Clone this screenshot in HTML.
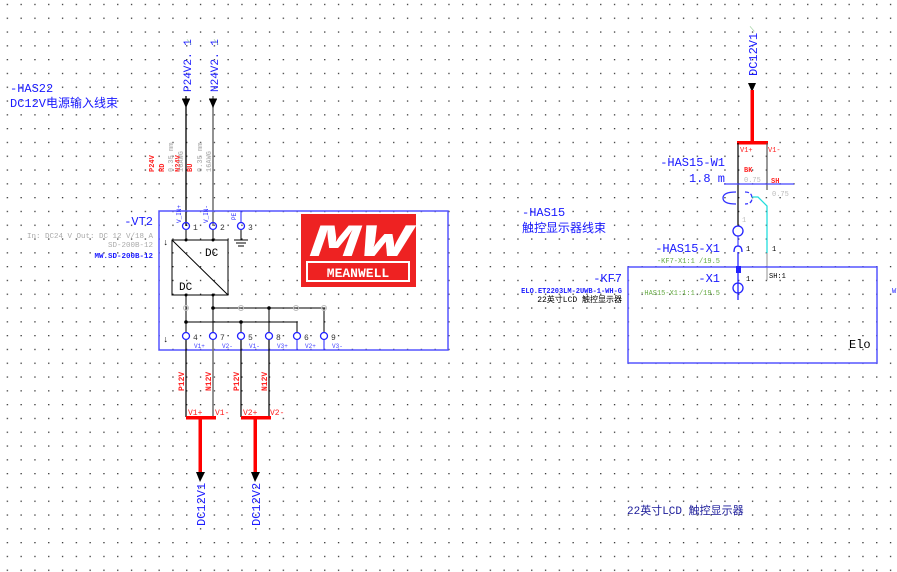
<!DOCTYPE html>
<html><head><meta charset="utf-8"><style>
html,body{margin:0;padding:0;background:#fff;}
svg{display:block;}
text{font-family:"Liberation Mono","Noto Sans CJK SC",monospace;}
.cj{font-family:"Liberation Mono","Noto Sans CJK SC",sans-serif;}
</style></head><body>
<svg width="897" height="572" viewBox="0 0 897 572" xmlns="http://www.w3.org/2000/svg">
<defs>
<pattern id="g" x="6.7" y="3.8" width="13.8" height="13.8" patternUnits="userSpaceOnUse">
<rect x="0" y="0" width="1.3" height="1.3" fill="#333"/>
</pattern>
</defs>
<rect width="897" height="572" fill="url(#g)"/>

<!-- left texts -->
<text x="10" y="92" font-size="12" fill="#1a1aff" class="cj">-HAS22</text>
<text x="10" y="107" font-size="12" fill="#1a1aff" class="cj">DC12V电源输入线束</text>

<!-- input labels -->
<text transform="translate(191,92) rotate(-90)" font-size="11" fill="#1a1aff">P24V2. 1</text>
<text transform="translate(218,92) rotate(-90)" font-size="11" fill="#1a1aff">N24V2. 1</text>
<text transform="translate(191,45) rotate(-70)" font-size="8" fill="#9c9">/</text>
<text transform="translate(218,45) rotate(-70)" font-size="8" fill="#9c9">/</text>
<!-- input wires -->
<line x1="186" y1="96" x2="186" y2="226" stroke="#000" stroke-width="1.3"/>
<line x1="213" y1="96" x2="213" y2="226" stroke="#777" stroke-width="1.6"/>
<polygon points="182,99 190,99 186,108" fill="#000"/>
<polygon points="209,99 217,99 213,108" fill="#000"/>
<line x1="182" y1="99" x2="190" y2="99" stroke="#000"/>
<line x1="209" y1="99" x2="217" y2="99" stroke="#000"/>
<!-- small wire labels -->
<g font-size="7" font-weight="bold">
<text transform="translate(154,172) rotate(-90)" fill="#f22">P24V</text>
<text transform="translate(164,172) rotate(-90)" fill="#f22">RD</text>
<text transform="translate(173,172) rotate(-90)" fill="#bbb">0.35 mm</text>
<text transform="translate(180,172) rotate(-90)" fill="#f22">N24V</text>
<text transform="translate(183,172) rotate(-90)" fill="#bbb">16AWG</text>
<text transform="translate(192,172) rotate(-90)" fill="#f22">BU</text>
<text transform="translate(202,172) rotate(-90)" fill="#bbb">0.35 mm</text>
<text transform="translate(211,172) rotate(-90)" fill="#bbb">16AWG</text>
</g>

<!-- VT2 box -->
<rect x="159" y="211" width="289" height="139" fill="none" stroke="#55f" stroke-width="1.5"/>
<text x="153" y="225" font-size="12" fill="#1a1aff" text-anchor="end">-VT2</text>
<text x="153" y="238" font-size="7.5" fill="#aaa" text-anchor="end">In: DC24 V Out: DC 12 V/18 A</text>
<text x="153" y="247" font-size="7.5" fill="#aaa" text-anchor="end">SD-200B-12</text>
<text x="153" y="258" font-size="7.5" fill="#1a1aff" text-anchor="end" font-weight="bold">MW.SD-200B-12</text>

<!-- top terminals -->
<g fill="none" stroke="#22f" stroke-width="1.3">
<circle cx="186" cy="226" r="3.5"/><circle cx="213" cy="226" r="3.5"/><circle cx="241" cy="226" r="3.5"/>
</g>
<line x1="241" y1="211" x2="241" y2="222" stroke="#22f"/>
<g font-size="6" fill="#22f">
<text transform="translate(181,223) rotate(-90)">V_IN+</text>
<text transform="translate(208,223) rotate(-90)">V_IN-</text>
<text transform="translate(236,220) rotate(-90)">PE</text>
</g>
<g font-size="8" fill="#333"><text x="193" y="230">1</text><text x="220" y="230">2</text><text x="248" y="230">3</text></g>
<line x1="186" y1="230" x2="186" y2="240" stroke="#000"/>
<line x1="213" y1="230" x2="213" y2="240" stroke="#000"/>
<circle cx="186" cy="240" r="1.5"/><circle cx="213" cy="240" r="1.5"/>
<!-- ground -->
<g stroke="#000"><line x1="241" y1="230" x2="241" y2="240"/><line x1="234" y1="240" x2="248" y2="240"/><line x1="236" y1="243" x2="246" y2="243"/><line x1="238" y1="246" x2="244" y2="246"/></g>
<text x="163" y="245" font-size="9" fill="#000">↓</text>
<text x="163" y="342" font-size="9" fill="#000">↓</text>

<!-- DC/DC -->
<rect x="172" y="240" width="56" height="55" fill="none" stroke="#000" stroke-width="1"/>
<line x1="172" y1="240" x2="228" y2="295" stroke="#000"/>
<text x="205" y="256" font-size="11" font-family="Liberation Serif" fill="#000">DC</text>
<text x="179" y="290" font-size="11" font-family="Liberation Serif" fill="#000">DC</text>

<!-- internal wiring -->
<g stroke="#000" stroke-width="1" fill="none">
<line x1="186" y1="295" x2="186" y2="336"/>
<line x1="213" y1="295" x2="213" y2="336"/>
<polyline points="213,308 324,308 324,332"/>
<polyline points="186,322 297,322 297,332"/>
<line x1="241" y1="322" x2="241" y2="332"/>
<line x1="269" y1="308" x2="269" y2="332"/>
</g>
<g fill="#000"><circle cx="186" cy="295" r="1.5"/><circle cx="213" cy="295" r="1.5"/><circle cx="213" cy="308" r="1.8"/><circle cx="269" cy="308" r="1.8"/><circle cx="186" cy="322" r="1.8"/><circle cx="241" cy="322" r="1.8"/></g>
<g fill="none" stroke="#bbb"><circle cx="186" cy="308" r="2.5"/><circle cx="241" cy="308" r="2.5"/><circle cx="296" cy="308" r="2.5"/><circle cx="324" cy="308" r="2.5"/></g>

<!-- bottom terminals -->
<g fill="#fff" stroke="#22f" stroke-width="1.3">
<circle cx="186" cy="336" r="3.5"/><circle cx="213" cy="336" r="3.5"/><circle cx="241" cy="336" r="3.5"/><circle cx="269" cy="336" r="3.5"/><circle cx="297" cy="336" r="3.5"/><circle cx="324" cy="336" r="3.5"/>
</g>
<g stroke="#22f"><line x1="297" y1="340" x2="297" y2="350"/><line x1="324" y1="340" x2="324" y2="350"/></g>
<g font-size="8" fill="#333"><text x="193" y="340">4</text><text x="220" y="340">7</text><text x="248" y="340">5</text><text x="276" y="340">8</text><text x="304" y="340">6</text><text x="331" y="340">9</text></g>
<g font-size="6" fill="#44f"><text x="194" y="348">V1+</text><text x="222" y="348">V2-</text><text x="249" y="348">V1-</text><text x="277" y="348">V3+</text><text x="305" y="348">V2+</text><text x="332" y="348">V3-</text></g>

<!-- logo -->
<rect x="301" y="214" width="115" height="73" fill="#ee2222"/>
<text x="310" y="256" font-size="46" font-weight="bold" font-style="italic" fill="#fff" font-family="Liberation Sans" textLength="100" lengthAdjust="spacingAndGlyphs">MW</text>
<rect x="306" y="261" width="104" height="21" fill="#fff"/>
<rect x="308" y="263" width="100" height="17" fill="#ee2222"/>
<text x="358" y="277" font-size="13" font-weight="bold" fill="#fff" text-anchor="middle" font-family="Liberation Sans">MEANWELL</text>

<!-- output wires -->
<g stroke-width="1.2"><line x1="186" y1="340" x2="186" y2="417" stroke="#000"/><line x1="213" y1="340" x2="213" y2="417" stroke="#777" stroke-width="1.6"/><line x1="241" y1="340" x2="241" y2="417" stroke="#000"/><line x1="269" y1="340" x2="269" y2="417" stroke="#000"/></g>
<g font-size="8" fill="#f22" font-weight="bold">
<text transform="translate(184,391) rotate(-90)">P12V</text><text transform="translate(211,391) rotate(-90)">N12V</text>
<text transform="translate(239,391) rotate(-90)">P12V</text><text transform="translate(267,391) rotate(-90)">N12V</text>
</g>
<g font-size="8" fill="#f22"><text x="188" y="415">V1+</text><text x="215" y="415">V1-</text><text x="243" y="415">V2+</text><text x="270" y="415">V2-</text></g>
<g fill="#f00"><rect x="186" y="416" width="30" height="3.5"/><rect x="241" y="416" width="30" height="3.5"/><rect x="198.5" y="418" width="3.5" height="56"/><rect x="253.5" y="418" width="3.5" height="56"/></g>
<polygon points="196,472 205,472 200,482" fill="#000"/>
<polygon points="251,472 260,472 255,482" fill="#000"/>
<text transform="translate(205,526) rotate(-90)" font-size="12" fill="#1a1aff" font-family="Liberation Serif">DC12V1</text>
<text transform="translate(260,526) rotate(-90)" font-size="12" fill="#1a1aff" font-family="Liberation Serif">DC12V2</text>

<!-- right side -->
<text transform="translate(757,76) rotate(-90)" font-size="12" fill="#1a1aff" font-family="Liberation Serif">DC12V1</text>
<text transform="translate(754,32) rotate(-70)" font-size="8" fill="#9c9">/</text>
<polygon points="748,83 756,83 752,92" fill="#000"/>
<rect x="750.5" y="90" width="3.5" height="53" fill="#f00"/>
<rect x="737" y="141" width="31" height="3.5" fill="#f00"/>
<text x="740" y="152" font-size="7" fill="#f22">V1+</text>
<text x="768" y="152" font-size="7" fill="#f22">V1-</text>
<line x1="738" y1="143" x2="738" y2="226" stroke="#000" stroke-width="1.2"/>
<line x1="767" y1="143" x2="767" y2="190" stroke="#555" stroke-width="1.2"/>
<text x="725" y="166" font-size="12" fill="#1a1aff" text-anchor="end">-HAS15-W1</text>
<text x="725" y="182" font-size="12" fill="#1a1aff" text-anchor="end">1.8 m</text>
<text x="744" y="172" font-size="7" fill="#f22" font-weight="bold">BK</text>
<text x="744" y="182" font-size="7" fill="#bbb">0.75</text>
<text x="771" y="183" font-size="7" fill="#f22" font-weight="bold">SH</text>
<text x="772" y="196" font-size="7" fill="#bbb">0.75</text>
<line x1="724" y1="184" x2="794" y2="184" stroke="#44f" stroke-width="1.3"/>
<path d="M736 192 Q723 192 723 198 Q723 204 736 204" fill="none" stroke="#33f" stroke-width="1.3"/>
<path d="M745 192 Q752 192 752 198 Q752 204 745 204" fill="none" stroke="#33f" stroke-width="1.3" stroke-dasharray="4,2"/>
<polyline points="752,197 758,197 767,206 767,253" fill="none" stroke="#2dd" stroke-width="1.3"/>
<line x1="767" y1="253" x2="767" y2="280" stroke="#aaa" stroke-width="1.3"/>
<text x="742" y="222" font-size="7" fill="#bbb">1</text>
<circle cx="738" cy="231" r="5" fill="none" stroke="#22f" stroke-width="1.3"/>
<line x1="738" y1="236" x2="738" y2="246" stroke="#22f"/>
<path d="M734 252 Q734 246 738 246 Q742 246 742 252" fill="none" stroke="#22f" stroke-width="1.3"/>
<line x1="738" y1="252" x2="738" y2="300" stroke="#22f" stroke-width="1.3"/>
<text x="720" y="252" font-size="12" fill="#1a1aff" text-anchor="end">-HAS15-X1</text>
<text x="746" y="251" font-size="7" fill="#000">1</text>
<text x="772" y="251" font-size="7" fill="#000">1</text>
<text x="720" y="263" font-size="7" fill="#6a4" text-anchor="end">-KF7-X1:1 /19.5</text>
<text x="522" y="216" font-size="12" fill="#1a1aff" class="cj">-HAS15</text>
<text x="522" y="232" font-size="12" fill="#1a1aff" class="cj">触控显示器线束</text>

<rect x="628" y="267" width="249" height="96" fill="none" stroke="#55f" stroke-width="1.5"/>
<rect x="736" y="266" width="5" height="7" fill="#22f"/>
<circle cx="738" cy="288" r="5" fill="none" stroke="#22f" stroke-width="1.3"/>
<text x="720" y="282" font-size="12" fill="#1a1aff" text-anchor="end">-X1</text>
<text x="746" y="281" font-size="7" fill="#000">1.</text>
<text x="769" y="278" font-size="7" fill="#000">SH:1</text>
<text x="720" y="295" font-size="7" fill="#6a4" text-anchor="end">-HAS15-X1:1:1 /19.5</text>
<text x="849" y="348" font-size="12" fill="#000" font-family="Liberation Serif">Elo</text>
<text x="622" y="282" font-size="12" fill="#1a1aff" text-anchor="end">-KF7</text>
<text x="622" y="293" font-size="7" fill="#1a1aff" text-anchor="end" font-weight="bold">ELO.ET2203LM-2UWB-1-WH-G</text>
<text x="622" y="302" font-size="8" fill="#000" text-anchor="end" class="cj">22英寸LCD  触控显示器</text>
<text x="892" y="293" font-size="7" fill="#1a1aff">W</text>
<text x="627" y="514" font-size="11" fill="#1a1a99" class="cj">22英寸LCD  触控显示器</text>
</svg>
</body></html>
